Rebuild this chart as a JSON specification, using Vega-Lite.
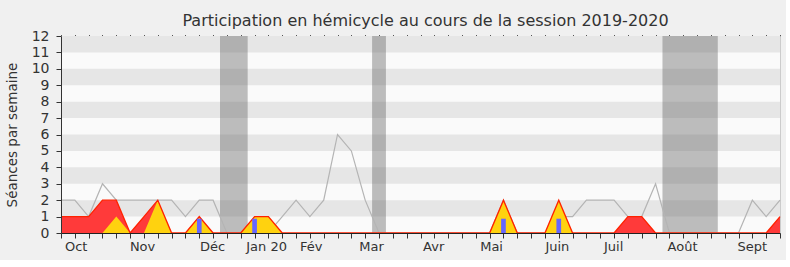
{
  "$schema": "https://vega.github.io/schema/vega-lite/v6.json",
  "width": 719,
  "height": 197,
  "autosize": {"type": "none"},
  "padding": {"left": 61, "top": 36, "right": 6, "bottom": 27},
  "background": "#f0f0f0",
  "config": {"view": {"fill": "#fafafa", "stroke": null}, "font": "DejaVu Sans", "scale": {"continuousPadding": 0}},
  "title": {"text": "Participation en hémicycle au cours de la session 2019-2020", "font": "DejaVu Sans", "fontSize": 16, "fontWeight": "normal", "color": "#333333", "offset": 0, "dx": 5, "anchor": "middle"},
  "datasets": {
    "weeks": [
      {"w": 0, "total": 2, "pres": 1, "interv": 0, "quest": 0},
      {"w": 1, "total": 2, "pres": 1, "interv": 0, "quest": 0},
      {"w": 2, "total": 1, "pres": 1, "interv": 0, "quest": 0},
      {"w": 3, "total": 3, "pres": 2, "interv": 0, "quest": 0},
      {"w": 4, "total": 2, "pres": 2, "interv": 1, "quest": 0},
      {"w": 5, "total": 2, "pres": 0, "interv": 0, "quest": 0},
      {"w": 6, "total": 2, "pres": 1, "interv": 0, "quest": 0},
      {"w": 7, "total": 2, "pres": 2, "interv": 2, "quest": 0},
      {"w": 8, "total": 2, "pres": 0, "interv": 0, "quest": 0},
      {"w": 9, "total": 1, "pres": 0, "interv": 0, "quest": 0},
      {"w": 10, "total": 2, "pres": 1, "interv": 1, "quest": 0.87},
      {"w": 11, "total": 2, "pres": 0, "interv": 0, "quest": 0},
      {"w": 12, "total": 0, "pres": 0, "interv": 0, "quest": 0},
      {"w": 13, "total": 0, "pres": 0, "interv": 0, "quest": 0},
      {"w": 14, "total": 0, "pres": 1, "interv": 1, "quest": 0.87},
      {"w": 15, "total": 0, "pres": 1, "interv": 1, "quest": 0},
      {"w": 16, "total": 1, "pres": 0, "interv": 0, "quest": 0},
      {"w": 17, "total": 2, "pres": 0, "interv": 0, "quest": 0},
      {"w": 18, "total": 1, "pres": 0, "interv": 0, "quest": 0},
      {"w": 19, "total": 2, "pres": 0, "interv": 0, "quest": 0},
      {"w": 20, "total": 6, "pres": 0, "interv": 0, "quest": 0},
      {"w": 21, "total": 5, "pres": 0, "interv": 0, "quest": 0},
      {"w": 22, "total": 2, "pres": 0, "interv": 0, "quest": 0},
      {"w": 23, "total": 0, "pres": 0, "interv": 0, "quest": 0},
      {"w": 24, "total": 0, "pres": 0, "interv": 0, "quest": 0},
      {"w": 25, "total": 0, "pres": 0, "interv": 0, "quest": 0},
      {"w": 26, "total": 0, "pres": 0, "interv": 0, "quest": 0},
      {"w": 27, "total": 0, "pres": 0, "interv": 0, "quest": 0},
      {"w": 28, "total": 0, "pres": 0, "interv": 0, "quest": 0},
      {"w": 29, "total": 0, "pres": 0, "interv": 0, "quest": 0},
      {"w": 30, "total": 0, "pres": 0, "interv": 0, "quest": 0},
      {"w": 31, "total": 0, "pres": 0, "interv": 0, "quest": 0},
      {"w": 32, "total": 2, "pres": 2, "interv": 2, "quest": 0.87},
      {"w": 33, "total": 0, "pres": 0, "interv": 0, "quest": 0},
      {"w": 34, "total": 0, "pres": 0, "interv": 0, "quest": 0},
      {"w": 35, "total": 0, "pres": 0, "interv": 0, "quest": 0},
      {"w": 36, "total": 1, "pres": 2, "interv": 2, "quest": 0.87},
      {"w": 37, "total": 1, "pres": 0, "interv": 0, "quest": 0},
      {"w": 38, "total": 2, "pres": 0, "interv": 0, "quest": 0},
      {"w": 39, "total": 2, "pres": 0, "interv": 0, "quest": 0},
      {"w": 40, "total": 2, "pres": 0, "interv": 0, "quest": 0},
      {"w": 41, "total": 1, "pres": 1, "interv": 0, "quest": 0},
      {"w": 42, "total": 1, "pres": 1, "interv": 0, "quest": 0},
      {"w": 43, "total": 3, "pres": 0, "interv": 0, "quest": 0},
      {"w": 44, "total": 0, "pres": 0, "interv": 0, "quest": 0},
      {"w": 45, "total": 0, "pres": 0, "interv": 0, "quest": 0},
      {"w": 46, "total": 0, "pres": 0, "interv": 0, "quest": 0},
      {"w": 47, "total": 0, "pres": 0, "interv": 0, "quest": 0},
      {"w": 48, "total": 0, "pres": 0, "interv": 0, "quest": 0},
      {"w": 49, "total": 0, "pres": 0, "interv": 0, "quest": 0},
      {"w": 50, "total": 2, "pres": 0, "interv": 0, "quest": 0},
      {"w": 51, "total": 1, "pres": 0, "interv": 0, "quest": 0},
      {"w": 52, "total": 2, "pres": 1, "interv": 0, "quest": 0}
    ],
    "bands": [
      {"lo": 1, "hi": 2}, {"lo": 3, "hi": 4}, {"lo": 5, "hi": 6},
      {"lo": 7, "hi": 8}, {"lo": 9, "hi": 10}, {"lo": 11, "hi": 12}
    ],
    "vacances": [
      {"start": 11.5, "end": 13.5},
      {"start": 22.5, "end": 23.5},
      {"start": 43.5, "end": 47.5}
    ],
    "mois": [
      {"w": 1.1, "label": "Oct"},
      {"w": 5.9, "label": "Nov"},
      {"w": 10.97, "label": "Déc"},
      {"w": 14.87, "label": "Jan 20"},
      {"w": 18.1, "label": "Fév"},
      {"w": 22.46, "label": "Mar"},
      {"w": 26.95, "label": "Avr"},
      {"w": 31.14, "label": "Mai"},
      {"w": 35.9, "label": "Juin"},
      {"w": 39.97, "label": "Juil"},
      {"w": 44.95, "label": "Août"},
      {"w": 50.0, "label": "Sept"}
    ]
  },
  "layer": [
    {
      "data": {"name": "bands"},
      "mark": {"type": "rect", "fill": "#e6e6e6"},
      "encoding": {
        "y": {"field": "lo", "type": "quantitative", "scale": {"domain": [0, 12], "nice": false, "zero": false},
          "axis": {"orient": "left", "values": [0,1,2,3,4,5,6,7,8,9,10,11,12], "grid": false, "tickSize": 5, "tickColor": "#333333", "domainColor": "#333333", "labelFontSize": 14, "labelColor": "#333333", "labelPadding": 7, "title": "Séances par semaine", "titleFontSize": 13.5, "titleFontWeight": "normal", "titleColor": "#333333", "titlePadding": 12, "zindex": 1}},
        "y2": {"field": "hi"}
      }
    },
    {
      "data": {"name": "vacances"},
      "mark": {"type": "rect", "fill": "#606060", "opacity": 0.4},
      "encoding": {
        "x": {"field": "start", "type": "quantitative", "scale": {"domain": [0, 52], "nice": false, "zero": false, "padding": 0},
          "axis": {"orient": "bottom", "values": [0,1,2,3,4,5,6,7,8,9,10,11,12,13,14,15,16,17,18,19,20,21,22,23,24,25,26,27,28,29,30,31,32,33,34,35,36,37,38,39,40,41,42,43,44,45,46,47,48,49,50,51,52], "labels": false, "grid": false, "tickSize": 5, "tickColor": "#333333", "domainColor": "#222222", "title": null, "zindex": 1}},
        "x2": {"field": "end"}
      }
    },
    {
      "data": {"name": "weeks"},
      "mark": {"type": "line", "stroke": "#b4b4b4", "strokeWidth": 1.2},
      "encoding": {
        "x": {"field": "w", "type": "quantitative", "scale": {"domain": [0, 52], "nice": false, "zero": false, "padding": 0},
          "axis": {"orient": "top", "values": [0,1,2,3,4,5,6,7,8,9,10,11,12,13,14,15,16,17,18,19,20,21,22,23,24,25,26,27,28,29,30,31,32,33,34,35,36,37,38,39,40,41,42,43,44,45,46,47,48,49,50,51,52], "labels": false, "domain": false, "grid": false, "tickSize": 1.5, "tickColor": "#555555", "title": null}},
        "y": {"field": "total", "type": "quantitative", "scale": {"domain": [0, 12], "nice": false, "zero": false},
          "axis": {"orient": "right", "ticks": false, "labels": false, "grid": false, "domainColor": "#cccccc", "title": null}}
      }
    },
    {
      "data": {"name": "weeks"},
      "mark": {"type": "area", "fill": "#ff3a3a", "interpolate": "linear"},
      "encoding": {
        "x": {"field": "w", "type": "quantitative", "scale": {"domain": [0, 52], "nice": false, "zero": false, "padding": 0}, "axis": null},
        "y": {"field": "pres", "type": "quantitative", "scale": {"domain": [0, 12], "nice": false, "zero": false}, "axis": null}
      }
    },
    {
      "data": {"name": "weeks"},
      "mark": {"type": "area", "fill": "#ffd20f", "interpolate": "linear"},
      "encoding": {
        "x": {"field": "w", "type": "quantitative", "scale": {"domain": [0, 52], "nice": false, "zero": false, "padding": 0}, "axis": null},
        "y": {"field": "interv", "type": "quantitative", "scale": {"domain": [0, 12], "nice": false, "zero": false}, "axis": null}
      }
    },
    {
      "data": {"name": "weeks"},
      "mark": {"type": "line", "stroke": "#ff2200", "strokeWidth": 1.3, "interpolate": "linear"},
      "encoding": {
        "x": {"field": "w", "type": "quantitative", "scale": {"domain": [0, 52], "nice": false, "zero": false, "padding": 0}, "axis": null},
        "y": {"field": "pres", "type": "quantitative", "scale": {"domain": [0, 12], "nice": false, "zero": false}, "axis": null}
      }
    },
    {
      "data": {"name": "weeks"},
      "transform": [{"filter": "datum.quest > 0"}],
      "mark": {"type": "bar", "fill": "#6666ff", "size": 4.7},
      "encoding": {
        "x": {"field": "w", "type": "quantitative", "scale": {"domain": [0, 52], "nice": false, "zero": false, "padding": 0}, "axis": null},
        "y": {"field": "quest", "type": "quantitative", "scale": {"domain": [0, 12], "nice": false, "zero": false}, "axis": null}
      }
    },
    {
      "data": {"name": "mois"},
      "mark": {"type": "text", "fontSize": 13, "color": "#333333", "baseline": "middle", "align": "center", "font": "DejaVu Sans"},
      "encoding": {
        "x": {"field": "w", "type": "quantitative", "scale": {"domain": [0, 52], "nice": false, "zero": false, "padding": 0}, "axis": null},
        "y": {"datum": -0.83, "type": "quantitative", "scale": {"domain": [0, 12], "nice": false, "zero": false}, "axis": null},
        "text": {"field": "label"}
      }
    }
  ],
  "resolve": {"axis": {"x": "independent", "y": "independent"}}
}
